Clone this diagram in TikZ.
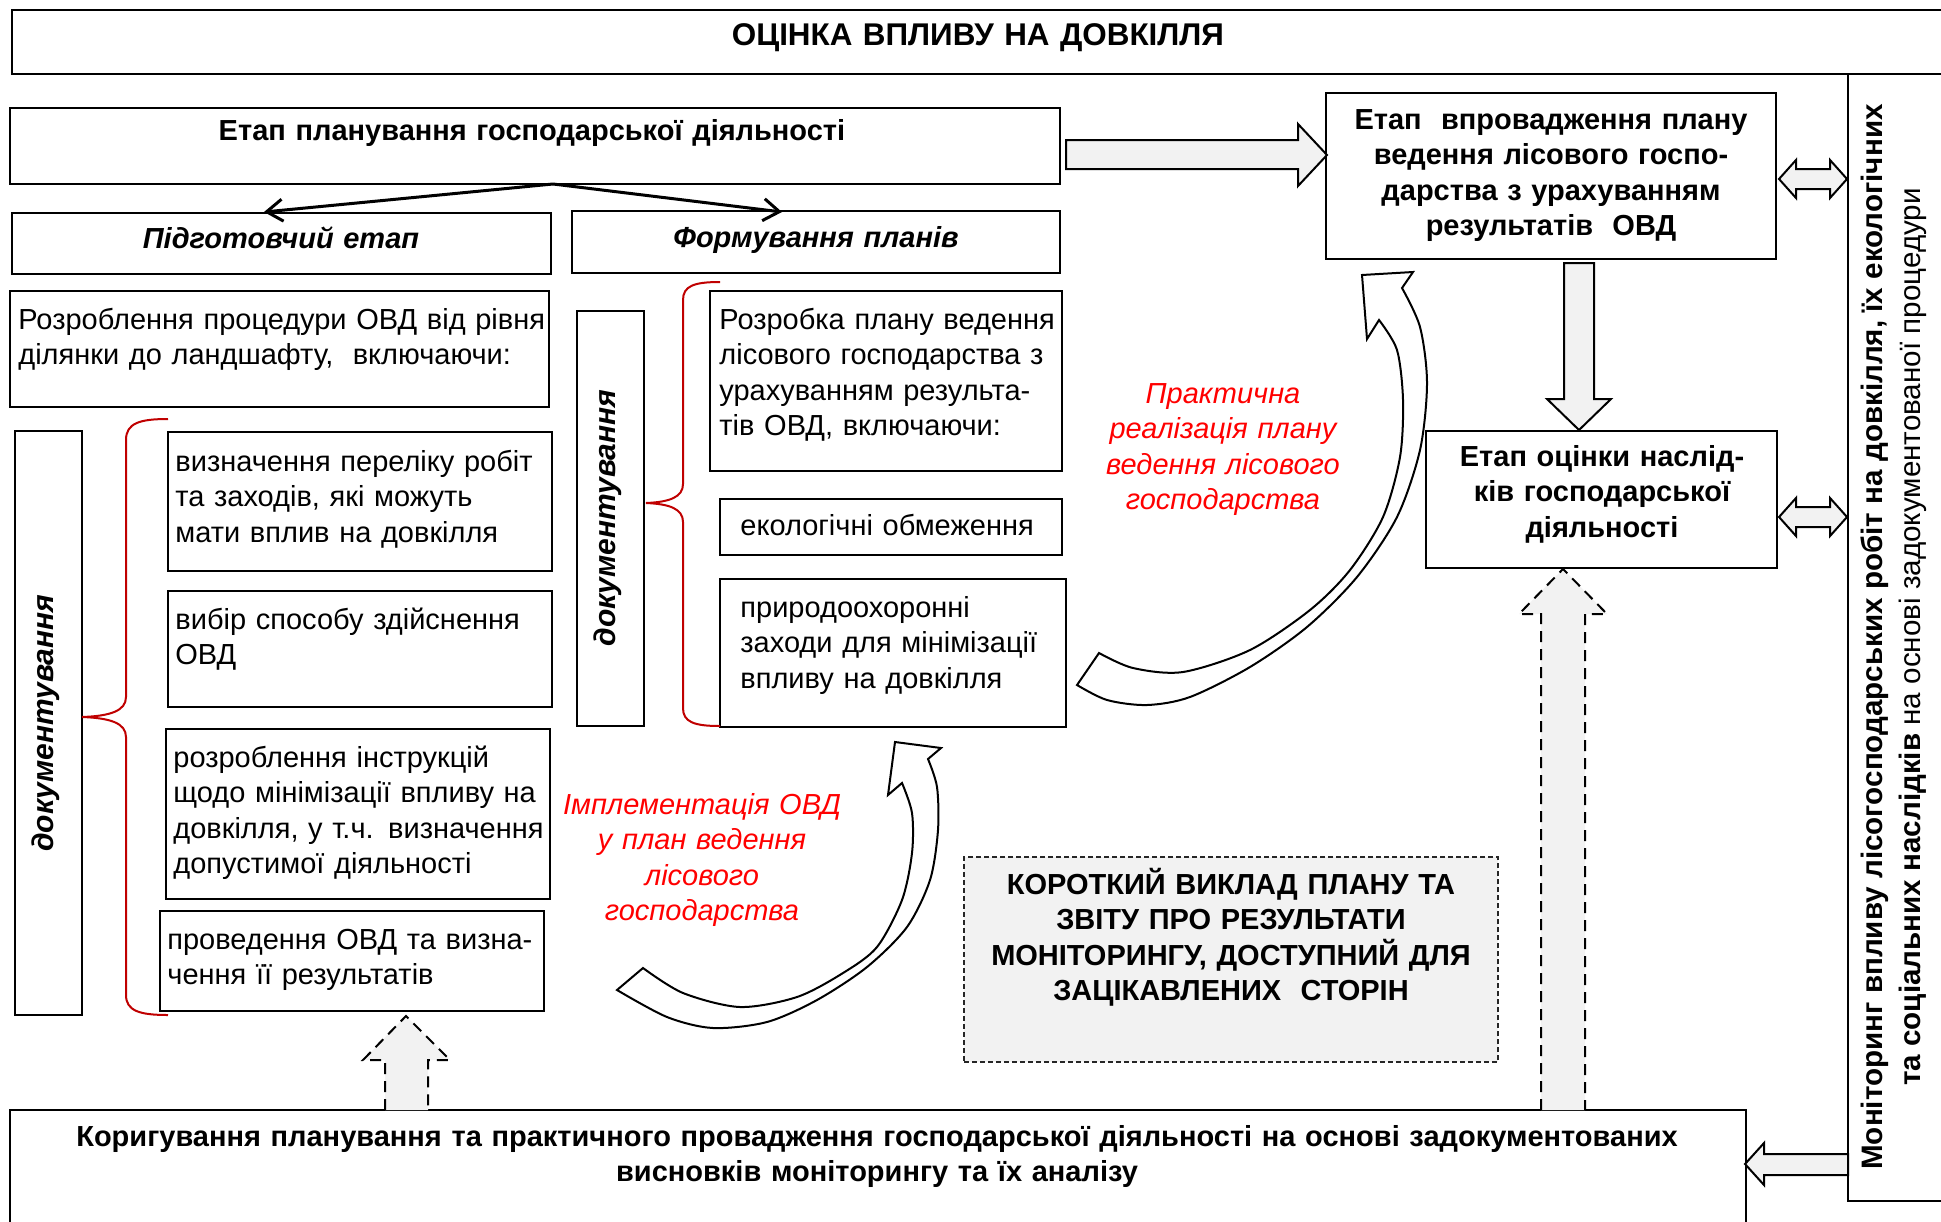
\documentclass[tikz,border=0pt]{standalone}
\usepackage{fontspec}
\setmainfont{Liberation Sans}
\usetikzlibrary{arrows.meta}
\definecolor{fillg}{RGB}{242,242,242}
\definecolor{bracered}{RGB}{192,0,0}
\definecolor{redtxt}{RGB}{255,0,0}
\newcommand\bx[6][]{\node[box,#1,anchor=north west,minimum width={(#5-#3)*0.5pt},minimum height={(#6-#4)*0.5pt}] (#2) at (#3,#4) {};}
\tikzset{
  box/.style={draw, line width=1pt, inner sep=0pt, outer sep=0pt},
  heavy/.style={line width=1.4pt},
  fs/.style={font=\fontsize{14.5}{17.75}\selectfont},
  ltxt/.style={fs, inner sep=0pt, align=left, text width=300pt, anchor=base west},
  ctxt/.style={fs, inner sep=0pt, align=center, text width=700pt, anchor=base},
  btxt/.style={ctxt, font=\bfseries\fontsize{14.5}{17.75}\selectfont},
  rtxt/.style={ctxt, font=\itshape\fontsize{14.5}{17.75}\selectfont, text=redtxt},
  blockarrow/.style={draw, line width=1pt, fill=fillg, line join=miter},
  curvearrow/.style={draw, line width=1pt, fill=white, line join=miter},
  dasharrow/.style={draw, line width=1pt, dash pattern=on 5.5pt off 3.5pt},
  thinarrow/.style={line width=1.5pt, -{Straight Barb[length=8pt,width=11pt,line width=1.5pt]}},
  bracepath/.style={draw=bracered, line width=1pt},
}
\begin{document}
\begin{tikzpicture}[x=0.5pt,y=-0.5pt]
\useasboundingbox (0,0) rectangle (1941,1221);
\fill[white] (0,0) rectangle (1941,1221);

% main boxes
\bx[heavy]{title}{12}{10}{1990}{74}
\bx{monitor}{1848}{74}{1990}{1201}
\bx[heavy]{plan}{10}{108}{1060}{184}
\bx[heavy]{prep}{12}{213}{551}{274}
\bx[heavy]{form}{572}{211}{1060}{273}
\bx[heavy]{razr}{10}{291}{549}{407}
\bx{doc1}{15}{431}{82}{1015}
\bx{sa}{168}{432}{552}{571}
\bx{sb}{168}{591}{552}{707}
\bx{sc}{166}{729}{550}{899}
\bx{sd}{160}{911}{544}{1011}
\bx{doc2}{577}{311}{644}{726}
\bx{ra}{710}{291}{1062}{471}
\bx{rb}{720}{499}{1062}{555}
\bx{rc}{720}{579}{1066}{727}
\bx{vpr}{1326}{93}{1776}{259}
\bx{ots}{1426}{431}{1777}{568}
\bx[heavy]{bottom}{10}{1110}{1746}{1240}
\node[anchor=north west, fill=fillg, draw=black!85, line width=1pt, dash pattern=on 2.5pt off 1.5pt, inner sep=0pt, outer sep=0pt, minimum width={(1498-964)*0.5pt}, minimum height={(1062-857)*0.5pt}] (short) at (964,857) {};

% texts
\node[btxt, font=\bfseries\fontsize{15.7}{18}\selectfont] (title-t) at (978,45) {ОЦІНКА ВПЛИВУ НА ДОВКІЛЛЯ};
\node[btxt] (plan-t) at (532,140) {Етап планування господарської діяльності};
\node[btxt, font=\bfseries\itshape\fontsize{14.5}{17.75}\selectfont] (prep-t) at (281,248) {Підготовчий етап};
\node[btxt, font=\bfseries\itshape\fontsize{14.5}{17.75}\selectfont] (form-t) at (816,247) {Формування планів};
\node[ltxt] (razr-t) at (18,329) {Розроблення процедури ОВД від рівня\\ділянки до ландшафту,\ \ включаючи:};
\node[ltxt] (sa-t) at (175,471) {визначення переліку робіт\\та заходів, які можуть\\мати вплив на довкілля};
\node[ltxt] (sb-t) at (175,629) {вибір способу здійснення\\ОВД};
\node[ltxt] (sc-t) at (173,767) {розроблення інструкцій\\щодо мінімізації впливу на\\довкілля, у т.ч. визначення\\допустимої діяльності};
\node[ltxt] (sd-t) at (167,949) {проведення ОВД та визна-\\чення її результатів};
\node[ltxt] (ra-t) at (719,329) {Розробка плану ведення\\лісового господарства з\\урахуванням результа-\\тів ОВД, включаючи:};
\node[ltxt] (rb-t) at (740,535) {екологічні обмеження};
\node[ltxt] (rc-t) at (740,617) {природоохоронні\\заходи для мінімізації\\впливу на довкілля};
\node[btxt] (vpr-t) at (1551,129) {Етап\ \ впровадження плану\\ведення лісового госпо-\\дарства з урахуванням\\результатів\ \ ОВД};
\node[btxt] (ots-t) at (1602,466) {Етап оцінки наслід-\\ків господарської\\діяльності};
\node[rtxt] (prakt-t) at (1223,403) {Практична\\реалізація плану\\ведення лісового\\господарства};
\node[rtxt] (impl-t) at (702,814) {Імплементація ОВД\\у план ведення\\лісового\\господарства};
\node[btxt] (short-t) at (1231,894) {КОРОТКИЙ ВИКЛАД ПЛАНУ ТА\\ЗВІТУ ПРО РЕЗУЛЬТАТИ\\МОНІТОРИНГУ, ДОСТУПНИЙ ДЛЯ\\ЗАЦІКАВЛЕНИХ\ \ СТОРІН};
\node[btxt, text width=900pt] (bottom-t) at (877,1146) {Коригування планування та практичного провадження господарської діяльності на основі задокументованих\\висновків моніторингу та їх аналізу};
\node[font=\bfseries\itshape\fontsize{15}{18}\selectfont, rotate=90, inner sep=0pt] (doc1-t) at (46,723) {документування};
\node[font=\bfseries\itshape\fontsize{15}{18}\selectfont, rotate=90, inner sep=0pt] (doc2-t) at (608,518) {документування};
\node[font=\fontsize{14.8}{19}\selectfont, rotate=90, align=center, inner sep=0pt] (monitor-t) at (1894,637) {\textbf{Моніторинг впливу лісогосподарських робіт на довкілля, їх екологічних}\\\textbf{та соціальних наслідків} на основі задокументованої процедури};

% thin split arrows
\coordinate (split) at (553,184);
\coordinate (prepin) at (264,212);
\coordinate (formin) at (782,212);
\draw[thinarrow] (split) -- (prepin);
\draw[thinarrow] (split) -- (formin);

% braces
\draw[bracepath] (168,419) .. controls (140,419) and (126,423) .. (126,440) -- (126,697) .. controls (126,711) and (110,716) .. (82,717) .. controls (110,718) and (126,723) .. (126,737) -- (126,995) .. controls (126,1011) and (140,1015) .. (168,1015);
\draw[bracepath] (720,282) .. controls (694,282) and (683,286) .. (683,300) -- (683,484) .. controls (683,497) and (670,502) .. (646,503) .. controls (670,504) and (683,509) .. (683,522) -- (683,708) .. controls (683,722) and (694,726) .. (720,726);

% block arrows
\draw[blockarrow] (1066,140) -- (1298,140) -- (1298,124) -- (1327,155) -- (1298,186) -- (1298,169) -- (1066,169) -- cycle;
\draw[blockarrow] (1564,263) -- (1594,263) -- (1594,399) -- (1611,399) -- (1579,430) -- (1547,399) -- (1564,399) -- cycle;
\draw[blockarrow] (1779,179) -- (1796,160) -- (1796,169) -- (1830,169) -- (1830,160) -- (1847,179) -- (1830,198) -- (1830,189) -- (1796,189) -- (1796,198) -- cycle;
\draw[blockarrow] (1779,517) -- (1796,498) -- (1796,507) -- (1830,507) -- (1830,498) -- (1847,517) -- (1830,536) -- (1830,527) -- (1796,527) -- (1796,536) -- cycle;
\draw[blockarrow] (1745,1164) -- (1764,1143) -- (1764,1154) -- (1848,1154) -- (1848,1175) -- (1764,1175) -- (1764,1185) -- cycle;

% dashed arrows
\fill[fillg] (385,1110) -- (385,1060) -- (363,1060) -- (406,1016) -- (450,1060) -- (428,1060) -- (428,1110) -- cycle;
\draw[dasharrow] (385,1110) -- (385,1060) -- (363,1060) -- (406,1016) -- (450,1060) -- (428,1060) -- (428,1110);
\fill[fillg] (1541,1110) -- (1541,614) -- (1519,614) -- (1563,569) -- (1607,614) -- (1585,614) -- (1585,1110) -- cycle;
\draw[dasharrow] (1541,1110) -- (1541,614) -- (1519,614) -- (1563,569) -- (1607,614) -- (1585,614) -- (1585,1110);

% curved arrows
\draw[curvearrow] (1362,275) -- (1413,272) -- (1402,288) -- plot[smooth] coordinates {(1402,288) (1420,327) (1427,383) (1420,450) (1397,517) (1357,577) (1307,627) (1250,667) (1190,697) (1147,705) (1107,700) (1077,685)} -- (1099,653) -- plot[smooth] coordinates {(1099,653) (1133,668) (1183,672) (1250,650) (1310,610) (1350,570) (1383,517) (1400,457) (1403,400) (1397,350) (1379,320)} -- (1367,339) -- cycle;
\draw[curvearrow] (895,742) -- (941,748) -- (928,759) -- plot[smooth] coordinates {(928,759) (937,787) (938,830) (930,880) (907,927) (867,967) (817,1000) (767,1022) (713,1028) (667,1017) (617,990)} -- (643,968) -- plot[smooth] coordinates {(643,968) (683,993) (740,1007) (797,997) (843,973) (877,947) (902,900) (912,853) (912,813) (902,783)} -- (888,795) -- cycle;
\end{tikzpicture}
\end{document}
